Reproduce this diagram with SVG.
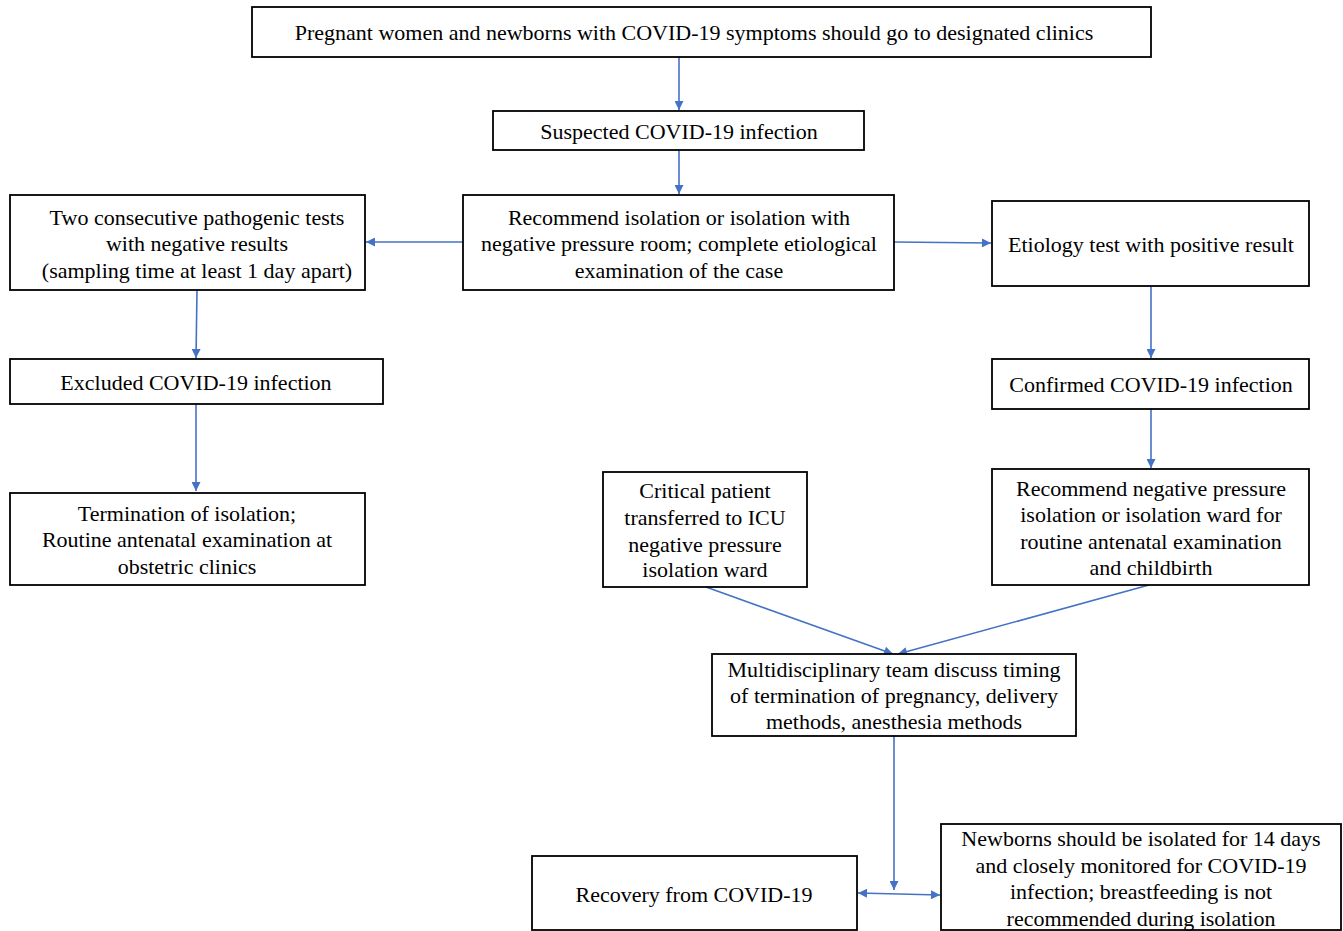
<svg xmlns="http://www.w3.org/2000/svg" width="1343" height="931" viewBox="0 0 1343 931">
<style>
.box{fill:#fff;stroke:#000;stroke-width:1.8}
.t{font-family:"Liberation Serif","Times New Roman",serif;font-size:22px;fill:#000;text-anchor:middle;dominant-baseline:central}
.c{stroke:#4472C4;stroke-width:1.6;fill:none}
</style>
<defs>
<marker id="ah" viewBox="0 0 10 10" refX="10" refY="5" markerWidth="10" markerHeight="9" markerUnits="userSpaceOnUse" orient="auto-start-reverse">
<path d="M0,0 L10,5 L0,10 z" fill="#4472C4"/>
</marker>
</defs>
<rect width="1343" height="931" fill="#fff"/>
<g id="connectors">
<line class="c" x1="679" y1="57" x2="679" y2="110" marker-end="url(#ah)"/>
<line class="c" x1="679" y1="150" x2="679" y2="194" marker-end="url(#ah)"/>
<line class="c" x1="463" y1="242" x2="366" y2="242" marker-end="url(#ah)"/>
<line class="c" x1="894" y1="242" x2="991" y2="243" marker-end="url(#ah)"/>
<line class="c" x1="197" y1="290" x2="196" y2="358" marker-end="url(#ah)"/>
<line class="c" x1="196" y1="404" x2="196" y2="491" marker-end="url(#ah)"/>
<line class="c" x1="1151" y1="286" x2="1151" y2="358" marker-end="url(#ah)"/>
<line class="c" x1="1151" y1="409" x2="1151" y2="468" marker-end="url(#ah)"/>
<line class="c" x1="706" y1="587" x2="893" y2="654" marker-end="url(#ah)"/>
<line class="c" x1="1149" y1="585" x2="898" y2="654" marker-end="url(#ah)"/>
<line class="c" x1="894" y1="736" x2="894" y2="890" marker-end="url(#ah)"/>
<line class="c" x1="858" y1="893" x2="940" y2="895" marker-start="url(#ah)" marker-end="url(#ah)"/>
</g>
<g id="n1"><rect class="box" x="252" y="7" width="899" height="50"/><text class="t" x="694" y="32">Pregnant women and newborns with COVID-19 symptoms should go to designated clinics</text></g>
<g id="n2"><rect class="box" x="493" y="111" width="371" height="39"/><text class="t" x="679" y="131">Suspected COVID-19 infection</text></g>
<g id="n3"><rect class="box" x="463" y="195" width="431" height="95"/><text class="t" x="679" y="217">Recommend isolation or isolation with</text><text class="t" x="679" y="243">negative pressure room; complete etiological</text><text class="t" x="679" y="270">examination of the case</text></g>
<g id="n4"><rect class="box" x="10" y="195" width="355" height="95"/><text class="t" x="197" y="217">Two consecutive pathogenic tests</text><text class="t" x="197" y="243">with negative results</text><text class="t" x="197" y="270">(sampling time at least 1 day apart)</text></g>
<g id="n5"><rect class="box" x="992" y="201" width="317" height="85"/><text class="t" x="1151" y="244">Etiology test with positive result</text></g>
<g id="n6"><rect class="box" x="10" y="359" width="373" height="45"/><text class="t" x="196" y="382">Excluded COVID-19 infection</text></g>
<g id="n7"><rect class="box" x="10" y="493" width="355" height="92"/><text class="t" x="187" y="513">Termination of isolation;</text><text class="t" x="187" y="539">Routine antenatal examination at</text><text class="t" x="187" y="566">obstetric clinics</text></g>
<g id="n8"><rect class="box" x="992" y="359" width="317" height="50"/><text class="t" x="1151" y="384">Confirmed COVID-19 infection</text></g>
<g id="n9"><rect class="box" x="992" y="469" width="317" height="116"/><text class="t" x="1151" y="488">Recommend negative pressure</text><text class="t" x="1151" y="514">isolation or isolation ward for</text><text class="t" x="1151" y="541">routine antenatal examination</text><text class="t" x="1151" y="567">and childbirth</text></g>
<g id="n10"><rect class="box" x="603" y="472" width="204" height="115"/><text class="t" x="705" y="490">Critical patient</text><text class="t" x="705" y="517">transferred to ICU</text><text class="t" x="705" y="544">negative pressure</text><text class="t" x="705" y="569">isolation ward</text></g>
<g id="n11"><rect class="box" x="712" y="654" width="364" height="82"/><text class="t" x="894" y="669">Multidisciplinary team discuss timing</text><text class="t" x="894" y="695">of termination of pregnancy, delivery</text><text class="t" x="894" y="721">methods, anesthesia methods</text></g>
<g id="n12"><rect class="box" x="532" y="856" width="325" height="74"/><text class="t" x="694" y="894">Recovery from COVID-19</text></g>
<g id="n13"><rect class="box" x="941" y="824" width="400" height="106"/><text class="t" x="1141" y="838">Newborns should be isolated for 14 days</text><text class="t" x="1141" y="865">and closely monitored for COVID-19</text><text class="t" x="1141" y="891">infection; breastfeeding is not</text><text class="t" x="1141" y="918">recommended during isolation</text></g>
</svg>
